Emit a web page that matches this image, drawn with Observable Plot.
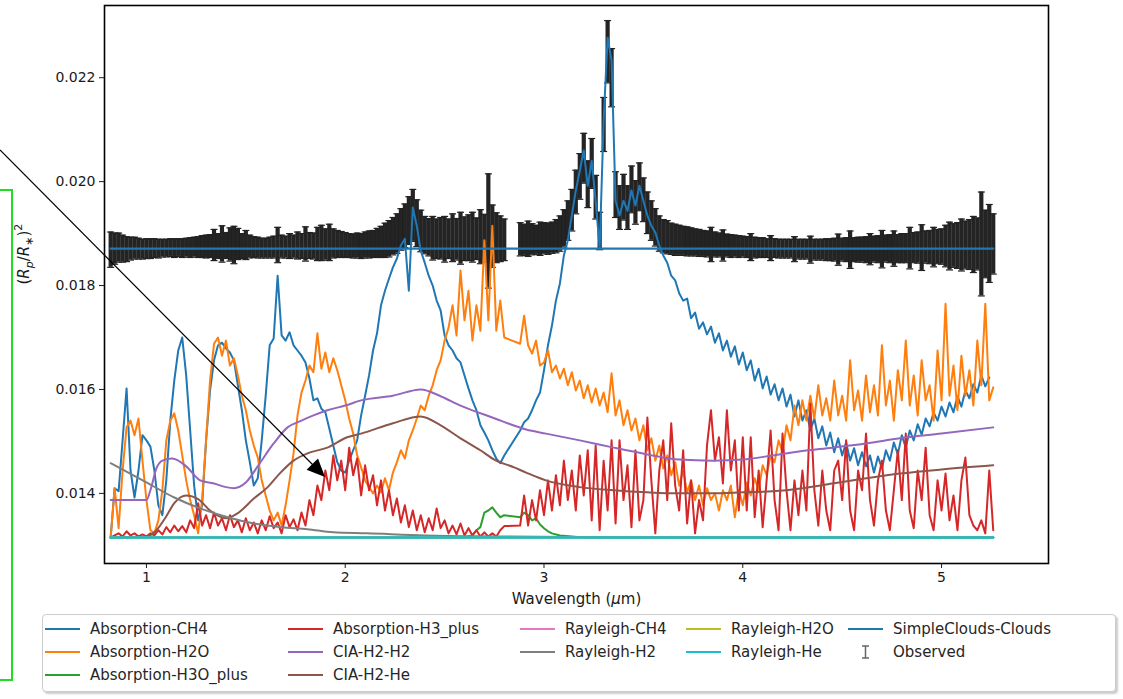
<!DOCTYPE html>
<html><head><meta charset="utf-8">
<script src="https://cdn.jsdelivr.net/npm/d3@7"></script>
<script src="https://cdn.jsdelivr.net/npm/@observablehq/plot@0.6"></script>
<style>
body{margin:0;background:#fff;font-family:"DejaVu Sans",sans-serif;}
#wrap{position:relative;width:1123px;height:699px;overflow:hidden;background:#fff;}
#chart{position:absolute;left:0;top:0;}
#legend{position:absolute;left:42px;top:614px;width:1074px;height:78px;border:1px solid #cccccc;border-radius:4px;box-shadow:2px 2px 2px rgba(0,0,0,0.2);background:#fff;box-sizing:border-box;}
.item{position:absolute;height:20px;display:flex;align-items:center;font-size:15px;color:#262626;white-space:nowrap;}
.sw{width:35px;height:0;border-top:2.5px solid;margin-right:10px;}
#overlay{position:absolute;left:0;top:0;pointer-events:none;}
</style></head><body>
<div id="wrap"><div id="chart"></div><div id="legend"></div><svg id="overlay" width="1123" height="699"></svg></div>
<script>
// ---- data ----
const wavelength = [
0.82,0.84,0.86,0.88,0.90,0.92,0.94,0.96,0.98,1.00,
1.02,1.04,1.06,1.08,1.10,1.12,1.14,1.16,1.18,1.20,
1.22,1.24,1.26,1.28,1.30,1.32,1.34,1.36,1.38,1.40,
1.42,1.44,1.46,1.48,1.50,1.52,1.54,1.56,1.58,1.60,
1.62,1.64,1.66,1.68,1.70,1.72,1.74,1.76,1.78,1.80,
1.82,1.84,1.86,1.88,1.90,1.92,1.94,1.96,1.98,2.00,
2.02,2.04,2.06,2.08,2.10,2.12,2.14,2.16,2.18,2.20,
2.22,2.24,2.26,2.28,2.30,2.32,2.34,2.36,2.38,2.40,
2.42,2.44,2.46,2.48,2.50,2.52,2.54,2.56,2.58,2.60,
2.62,2.64,2.66,2.68,2.70,2.72,2.74,2.76,2.78,2.80,
2.82,2.84,2.86,2.88,2.90,2.92,2.94,2.96,2.98,3.00,
3.02,3.04,3.06,3.08,3.10,3.12,3.14,3.16,3.18,3.20,
3.22,3.24,3.26,3.28,3.30,3.32,3.34,3.36,3.38,3.40,
3.42,3.44,3.46,3.48,3.50,3.52,3.54,3.56,3.58,3.60,
3.62,3.64,3.66,3.68,3.70,3.72,3.74,3.76,3.78,3.80,
3.82,3.84,3.86,3.88,3.90,3.92,3.94,3.96,3.98,4.00,
4.02,4.04,4.06,4.08,4.10,4.12,4.14,4.16,4.18,4.20,
4.22,4.24,4.26,4.28,4.30,4.32,4.34,4.36,4.38,4.40,
4.42,4.44,4.46,4.48,4.50,4.52,4.54,4.56,4.58,4.60,
4.62,4.64,4.66,4.68,4.70,4.72,4.74,4.76,4.78,4.80,
4.82,4.84,4.86,4.88,4.90,4.92,4.94,4.96,4.98,5.00,
5.02,5.04,5.06,5.08,5.10,5.12,5.14,5.16,5.18,5.20,
5.22,5.24,5.26];

const absorptionCH4 = [
0.01315,0.01410,0.01404,0.01502,0.01602,0.01444,0.01392,0.01444,0.01512,0.01502,
0.01490,0.01444,0.01377,0.01358,0.01425,0.01540,0.01617,0.01675,0.01700,0.01627,
0.01521,0.01415,0.01348,0.01377,0.01502,0.01598,0.01656,0.01685,0.01690,0.01679,
0.01671,0.01656,0.01608,0.01560,0.01502,0.01460,0.01415,0.01429,0.01502,0.01588,
0.01685,0.01698,0.01819,0.01704,0.01694,0.01710,0.01685,0.01675,0.01665,0.01652,
0.01621,0.01579,0.01583,0.01563,0.01556,0.01525,0.01492,0.01460,0.01444,0.01440,
0.01463,0.01483,0.01502,0.01550,0.01588,0.01627,0.01675,0.01708,0.01762,0.01790,
0.01813,0.01835,0.01852,0.01877,0.01890,0.01790,0.01950,0.01915,0.01867,0.01844,
0.01819,0.01800,0.01771,0.01752,0.01704,0.01685,0.01675,0.01660,0.01652,0.01627,
0.01602,0.01579,0.01560,0.01531,0.01517,0.01502,0.01483,0.01467,0.01458,0.01473,
null,null,null,0.01521,0.01537,0.01544,0.01560,0.01579,0.01594,0.01637,
0.01685,0.01723,0.01771,0.01804,0.01858,0.01887,0.01935,0.01983,0.02021,0.02060,
0.01992,0.02040,0.01963,0.01871,0.02117,0.02277,0.02233,0.01963,0.01935,0.01963,
0.01944,0.01983,0.01954,0.01992,0.01963,0.01935,0.01915,0.01902,0.01877,0.01858,
0.01844,0.01819,0.01810,0.01785,0.01771,0.01775,0.01737,0.01748,0.01717,0.01729,
0.01706,0.01721,0.01690,0.01708,0.01675,0.01694,0.01663,0.01683,0.01648,0.01671,
0.01637,0.01656,0.01617,0.01640,0.01602,0.01625,0.01590,0.01610,0.01579,0.01602,
0.01567,0.01590,0.01548,0.01579,0.01540,0.01560,0.01521,0.01544,0.01506,0.01529,
0.01492,0.01517,0.01479,0.01506,0.01473,0.01498,0.01463,0.01487,0.01454,0.01479,
0.01452,0.01473,0.01440,0.01471,0.01448,0.01483,0.01463,0.01498,0.01475,0.01512,
0.01488,0.01521,0.01502,0.01533,0.01513,0.01544,0.01529,0.01556,0.01540,0.01567,
0.01548,0.01575,0.01556,0.01587,0.01567,0.01598,0.01583,0.01610,0.01594,0.01627,
0.01606,0.01623,null];

const absorptionH2O = [
0.01315,0.01410,0.01333,0.01444,0.01527,0.01540,0.01512,0.01544,0.01463,0.01387,
0.01329,0.01323,0.01348,0.01406,0.01502,0.01540,0.01554,0.01521,0.01473,0.01425,
0.01387,0.01358,0.01323,0.01387,0.01502,0.01617,0.01688,0.01700,0.01665,0.01694,
0.01646,0.01660,0.01627,0.01588,0.01560,0.01521,0.01492,0.01469,0.01425,0.01396,
0.01367,0.01348,0.01363,0.01338,0.01377,0.01425,0.01477,0.01550,0.01594,0.01617,
0.01646,0.01633,0.01708,0.01640,0.01671,0.01633,0.01660,0.01637,0.01608,0.01579,
0.01544,0.01515,0.01473,0.01450,0.01425,0.01412,0.01400,0.01415,0.01402,0.01429,
0.01406,0.01440,0.01460,0.01483,0.01467,0.01502,0.01521,0.01544,0.01569,0.01560,
0.01588,0.01608,0.01637,0.01656,0.01694,0.01719,0.01762,0.01704,0.01829,0.01733,
0.01790,0.01694,0.01762,0.01713,0.01887,0.01733,0.01915,0.01713,0.01771,0.01700,
null,null,null,0.01688,0.01742,0.01685,0.01669,0.01694,0.01646,0.01652,
0.01675,0.01633,0.01646,0.01621,0.01640,0.01608,0.01633,0.01598,0.01617,0.01583,
0.01608,0.01575,0.01602,0.01569,0.01594,0.01556,0.01631,0.01550,0.01579,0.01531,
0.01560,0.01521,0.01544,0.01502,0.01531,0.01483,0.01506,0.01463,0.01492,0.01448,
0.01473,0.01435,0.01460,0.01415,0.01444,0.01402,0.01425,0.01387,0.01415,0.01377,
0.01410,0.01387,0.01400,0.01367,0.01406,0.01387,0.01415,0.01354,0.01406,0.01377,
0.01421,0.01396,0.01429,0.01406,0.01454,0.01435,0.01473,0.01460,0.01502,0.01479,
0.01531,0.01502,0.01569,0.01531,0.01579,0.01540,0.01588,0.01544,0.01608,0.01550,
0.01583,0.01540,0.01617,0.01550,0.01588,0.01540,0.01656,0.01560,0.01598,0.01540,
0.01627,0.01556,0.01608,0.01550,0.01685,0.01569,0.01617,0.01540,0.01637,0.01579,
0.01694,0.01569,0.01627,0.01550,0.01656,0.01579,0.01608,0.01540,0.01675,0.01579,
0.01765,0.01588,0.01646,0.01560,0.01665,0.01588,0.01637,0.01569,0.01694,0.01608,
0.01765,0.01579,0.01604];

const absorptionH3plus = [
0.01315,0.01319,0.01323,0.01317,0.01327,0.01319,0.01323,0.01317,0.01321,0.01317,
0.01323,0.01319,0.01329,0.01321,0.01335,0.01325,0.01338,0.01327,0.01337,0.01325,
0.01348,0.01333,0.01381,0.01338,0.01358,0.01333,0.01363,0.01338,0.01352,0.01329,
0.01358,0.01335,0.01348,0.01325,0.01352,0.01329,0.01344,0.01323,0.01348,0.01329,
0.01356,0.01333,0.01344,0.01323,0.01358,0.01335,0.01350,0.01329,0.01363,0.01338,
0.01387,0.01358,0.01415,0.01387,0.01444,0.01406,0.01473,0.01425,0.01463,0.01406,
0.01488,0.01435,0.01467,0.01396,0.01454,0.01406,0.01435,0.01377,0.01425,0.01367,
0.01406,0.01358,0.01390,0.01344,0.01377,0.01335,0.01367,0.01329,0.01358,0.01325,
0.01352,0.01329,0.01371,0.01333,0.01348,0.01323,0.01338,0.01321,0.01342,0.01319,
0.01333,0.01319,0.01329,0.01317,0.01325,0.01317,0.01323,0.01317,0.01329,0.01337,
null,null,null,0.01338,0.01396,0.01338,0.01387,0.01348,0.01406,0.01358,
0.01425,0.01367,0.01435,0.01377,0.01463,0.01387,0.01444,0.01367,0.01473,0.01396,
0.01483,0.01348,0.01492,0.01329,0.01463,0.01367,0.01502,0.01342,0.01502,0.01387,
0.01454,0.01335,0.01483,0.01348,0.01387,0.01546,0.01425,0.01323,0.01444,0.01502,
0.01387,0.01535,0.01415,0.01367,0.01483,0.01342,0.01425,0.01323,0.01387,0.01348,
0.01492,0.01560,0.01463,0.01508,0.01419,0.01560,0.01444,0.01502,0.01367,0.01508,
0.01367,0.01508,0.01354,0.01444,0.01335,0.01425,0.01521,0.01387,0.01329,0.01515,
0.01406,0.01329,0.01425,0.01358,0.01444,0.01367,0.01573,0.01406,0.01338,0.01444,
0.01367,0.01329,0.01444,0.01463,0.01387,0.01502,0.01367,0.01329,0.01444,0.01406,
0.01515,0.01387,0.01338,0.01425,0.01463,0.01367,0.01329,0.01406,0.01483,0.01387,
0.01515,0.01367,0.01333,0.01444,0.01387,0.01488,0.01358,0.01329,0.01425,0.01367,
0.01438,0.01348,0.01396,0.01329,0.01425,0.01469,0.01358,0.01338,0.01329,0.01348,
0.01323,0.01444,0.01329];

const observedValue = [
0.01869,0.01871,0.01873,0.01871,0.01870,0.01871,0.01872,0.01871,0.01870,0.01871,
0.01871,0.01872,0.01871,0.01872,0.01872,0.01873,0.01872,0.01873,0.01872,0.01873,
0.01873,0.01874,0.01874,0.01875,0.01875,0.01876,0.01878,0.01876,0.01880,0.01877,
0.01879,0.01878,0.01880,0.01876,0.01878,0.01875,0.01874,0.01873,0.01872,0.01872,
0.01873,0.01874,0.01878,0.01875,0.01874,0.01876,0.01875,0.01877,0.01876,0.01880,
0.01877,0.01876,0.01880,0.01882,0.01879,0.01883,0.01881,0.01880,0.01879,0.01878,
0.01877,0.01876,0.01877,0.01876,0.01878,0.01879,0.01880,0.01882,0.01884,0.01887,
0.01890,0.01895,0.01900,0.01908,0.01915,0.01925,0.01935,0.01920,0.01905,0.01897,
0.01893,0.01891,0.01890,0.01891,0.01889,0.01890,0.01892,0.01889,0.01891,0.01890,
0.01892,0.01893,0.01890,0.01894,0.01891,0.01905,0.01895,0.01892,0.01890,0.01888,
null,null,null,0.01889,0.01888,0.01890,0.01889,0.01888,0.01890,0.01891,
0.01890,0.01892,0.01895,0.01900,0.01910,0.01925,0.01945,0.01980,0.02010,0.02045,
0.01995,0.02035,0.01970,0.01905,0.02110,0.02250,0.02200,0.01975,0.01950,0.01970,
0.01950,0.01985,0.01960,0.01990,0.01965,0.01940,0.01925,0.01912,0.01900,0.01895,
0.01893,0.01890,0.01888,0.01887,0.01886,0.01885,0.01884,0.01883,0.01882,0.01881,
0.01880,0.01879,0.01879,0.01878,0.01877,0.01877,0.01876,0.01876,0.01875,0.01875,
0.01874,0.01874,0.01873,0.01873,0.01873,0.01872,0.01872,0.01872,0.01871,0.01871,
0.01871,0.01871,0.01870,0.01870,0.01870,0.01870,0.01869,0.01869,0.01869,0.01869,
0.01869,0.01869,0.01869,0.01869,0.01869,0.01869,0.01869,0.01869,0.01869,0.01869,
0.01869,0.01870,0.01870,0.01870,0.01870,0.01871,0.01871,0.01871,0.01871,0.01872,
0.01872,0.01872,0.01873,0.01873,0.01873,0.01874,0.01874,0.01874,0.01875,0.01875,
0.01876,0.01876,0.01877,0.01877,0.01878,0.01878,0.01879,0.01879,0.01880,0.01880,
0.01880,0.01881,0.01880];

const observedError = [
0.00034,0.00030,0.00028,0.00026,0.00024,0.00022,0.00021,0.00020,0.00019,0.00019,
0.00019,0.00018,0.00018,0.00017,0.00017,0.00017,0.00018,0.00017,0.00018,0.00018,
0.00019,0.00019,0.00020,0.00021,0.00022,0.00022,0.00030,0.00024,0.00035,0.00025,
0.00032,0.00036,0.00030,0.00024,0.00028,0.00022,0.00020,0.00020,0.00019,0.00019,
0.00020,0.00021,0.00034,0.00022,0.00021,0.00024,0.00022,0.00026,0.00024,0.00033,
0.00025,0.00025,0.00032,0.00034,0.00030,0.00035,0.00028,0.00026,0.00025,0.00024,
0.00023,0.00023,0.00024,0.00024,0.00025,0.00026,0.00026,0.00028,0.00030,0.00033,
0.00035,0.00036,0.00038,0.00040,0.00042,0.00046,0.00050,0.00045,0.00040,0.00036,
0.00036,0.00042,0.00038,0.00040,0.00044,0.00038,0.00046,0.00040,0.00050,0.00042,
0.00044,0.00048,0.00040,0.00052,0.00046,0.00110,0.00060,0.00048,0.00044,0.00040,
null,null,null,0.00032,0.00030,0.00034,0.00030,0.00028,0.00032,0.00030,
0.00030,0.00030,0.00032,0.00034,0.00036,0.00038,0.00040,0.00042,0.00044,0.00048,
0.00045,0.00048,0.00042,0.00036,0.00052,0.00060,0.00056,0.00044,0.00042,0.00044,
0.00042,0.00045,0.00042,0.00046,0.00042,0.00040,0.00038,0.00036,0.00034,0.00032,
0.00032,0.00030,0.00030,0.00029,0.00028,0.00028,0.00027,0.00026,0.00026,0.00025,
0.00025,0.00033,0.00024,0.00023,0.00030,0.00022,0.00022,0.00021,0.00021,0.00020,
0.00020,0.00026,0.00020,0.00019,0.00019,0.00018,0.00024,0.00018,0.00018,0.00018,
0.00018,0.00018,0.00024,0.00019,0.00019,0.00019,0.00026,0.00020,0.00020,0.00020,
0.00021,0.00021,0.00022,0.00030,0.00022,0.00023,0.00036,0.00023,0.00024,0.00024,
0.00025,0.00030,0.00025,0.00026,0.00036,0.00026,0.00027,0.00034,0.00027,0.00028,
0.00028,0.00040,0.00029,0.00030,0.00044,0.00031,0.00032,0.00038,0.00033,0.00034,
0.00040,0.00046,0.00042,0.00044,0.00050,0.00046,0.00048,0.00054,0.00050,0.00100,
0.00065,0.00075,0.00058];

const h3oWavelength = [0.82,2.60,2.64,2.66,2.68,2.70,2.72,2.74,2.76,2.78,2.80,2.88,2.90,2.92,2.94,2.96,2.98,3.00,3.02,3.04,3.08,3.14,3.20,5.26];
const absorptionH3Oplus = [0.01315,0.01315,0.01319,0.01329,0.01335,0.01363,0.01367,0.01373,0.01363,0.01354,0.01358,0.01354,0.01363,0.01358,0.01348,0.01352,0.01340,0.01333,0.01327,0.01323,0.01319,0.01317,0.01315,0.01315];

const ciaH2H2Wavelength = [0.82,1.00,1.02,1.05,1.08,1.13,1.20,1.27,1.34,1.40,1.44,1.50,1.57,1.64,1.71,1.78,1.84,1.91,2.00,2.08,2.24,2.38,2.48,2.58,2.74,2.91,3.01,3.18,3.35,3.52,3.68,3.85,4.00,4.15,4.29,4.45,4.62,4.79,5.00,5.26];
const ciaH2H2 = [0.01387,0.01387,0.01406,0.01448,0.01463,0.01467,0.01452,0.01425,0.01419,0.01412,0.01410,0.01421,0.01458,0.01496,0.01527,0.01540,0.01550,0.01560,0.01569,0.01579,0.01588,0.01600,0.01587,0.01569,0.01546,0.01523,0.01515,0.01502,0.01488,0.01475,0.01465,0.01463,0.01465,0.01473,0.01481,0.01488,0.01496,0.01506,0.01515,0.01527];

const ciaH2HeWavelength = [0.82,1.00,1.05,1.10,1.14,1.20,1.26,1.32,1.40,1.46,1.54,1.61,1.67,1.74,1.81,1.91,2.01,2.08,2.24,2.38,2.48,2.58,2.68,2.75,2.85,2.91,3.01,3.18,3.35,3.52,3.68,3.85,4.00,4.15,4.30,4.45,4.62,4.79,5.00,5.26];
const ciaH2He = [0.01315,0.01317,0.01329,0.01356,0.01381,0.01396,0.01389,0.01367,0.01352,0.01362,0.01390,0.01412,0.01438,0.01463,0.01477,0.01488,0.01508,0.01515,0.01535,0.01548,0.01531,0.01506,0.01483,0.01465,0.01450,0.01440,0.01425,0.01412,0.01406,0.01402,0.01400,0.01400,0.01402,0.01404,0.01410,0.01419,0.01429,0.01438,0.01446,0.01454];

const rayleighH2Wavelength = [0.82,1.00,1.14,1.27,1.41,1.54,1.68,1.81,1.94,2.11,2.40,2.80,3.50,5.26];
const rayleighH2 = [0.01458,0.01421,0.01392,0.01371,0.01354,0.01342,0.01335,0.01331,0.01325,0.01323,0.01319,0.01317,0.01315,0.01315];

const flatWavelength = [0.82, 5.26];
const rayleighCH4 = [0.01315, 0.01315];
const rayleighH2O = [0.01315, 0.01315];
const rayleighHe = [0.01315, 0.01315];
const simpleClouds = [0.01871, 0.01871];

const xTicks = [1, 2, 3, 4, 5];
const yTicks = [0.014, 0.016, 0.018, 0.020, 0.022];
const xLabel = "Wavelength (μm)";
const yLabel = "(Rp/R*)2";

const seriesNames = ["Absorption-CH4","Absorption-H2O","Absorption-H3O_plus","Absorption-H3_plus","CIA-H2-H2","CIA-H2-He","Rayleigh-CH4","Rayleigh-H2","Rayleigh-H2O","Rayleigh-He","SimpleClouds-Clouds"];
const seriesColors = ["#1f77b4","#ff7f0e","#2ca02c","#d62728","#9467bd","#8c564b","#e377c2","#7f7f7f","#bcbd22","#17becf","#1f77b4"];
const observedName = "Observed";

// ---- build ----
function pairs(xs, vs){ return xs.map((x,i)=>({wl:x, v:vs[i]})).filter(d=>d.v!=null); }
const seriesData = [
  {data: pairs(wavelength, absorptionCH4), curve:"linear", w:2},
  {data: pairs(wavelength, absorptionH2O), curve:"linear", w:2},
  {data: pairs(h3oWavelength, absorptionH3Oplus), curve:"linear", w:2},
  {data: pairs(wavelength, absorptionH3plus), curve:"linear", w:2},
  {data: pairs(ciaH2H2Wavelength, ciaH2H2), curve:"monotone-x", w:2},
  {data: pairs(ciaH2HeWavelength, ciaH2He), curve:"monotone-x", w:2},
  {data: pairs(flatWavelength, rayleighCH4), curve:"linear", w:2},
  {data: pairs(rayleighH2Wavelength, rayleighH2), curve:"monotone-x", w:2},
  {data: pairs(flatWavelength, rayleighH2O), curve:"linear", w:2},
  {data: pairs(flatWavelength, rayleighHe), curve:"linear", w:2.6},
  {data: pairs(flatWavelength, simpleClouds), curve:"linear", w:2.2}
];
const obs = wavelength.map((w,i)=>({wl:w, v:observedValue[i], e:observedError[i]}))
  .filter(d=>d.v!=null).map(d=>({wl:d.wl, lo:d.v-d.e, hi:d.v+d.e}));

const capSymbol = {draw(context, size){ const r = Math.sqrt(size/Math.PI); context.moveTo(-r,0); context.lineTo(r,0); }};

const lineMarks = seriesData.map((s,i)=>Plot.line(s.data, {x:"wl", y:"v", stroke: seriesColors[i], strokeWidth: s.w, curve: s.curve}));

const plot = Plot.plot({
  width: 1123, height: 615,
  marginLeft: 104, marginRight: 75, marginTop: 5, marginBottom: 52,
  x: {domain: [0.789, 5.538]},
  y: {domain: [0.01265, 0.02339]},
  style: {fontFamily: "'DejaVu Sans', sans-serif", fontSize: "14px", color: "#1a1a1a", background: "transparent"},
  marks: [
    Plot.ruleX(obs, {x:"wl", y1:"lo", y2:"hi", stroke:"#111", strokeWidth:4.2, strokeOpacity:0.92}),
    Plot.dot(obs, {x:"wl", y:"hi", symbol: capSymbol, r:3.5, stroke:"#222", strokeWidth:1.2, fill:"none"}),
    Plot.dot(obs, {x:"wl", y:"lo", symbol: capSymbol, r:3.5, stroke:"#222", strokeWidth:1.2, fill:"none"}),
    ...lineMarks,
    Plot.frame({stroke:"#000", strokeWidth:1.6}),
    Plot.axisX({ticks: xTicks, tickSize:5, tickPadding:4, label:null, tickFormat: d=>String(d)}),
    Plot.axisY({ticks: yTicks, tickSize:5, tickPadding:4, label:null, tickFormat: d3.format(".3f")}),
    Plot.text([xLabel], {frameAnchor:"bottom", dy:40, fontSize:15}),
    Plot.text([yLabel], {frameAnchor:"left", dx:-80, rotate:-90, fontSize:15})
  ]
});
document.getElementById("chart").appendChild(plot);

// format axis labels with math styling
d3.select(plot).selectAll("text").filter(function(){ return this.textContent === yLabel; }).each(function(){
  const t = d3.select(this); t.text("");
  t.append("tspan").text("(");
  t.append("tspan").attr("font-style","italic").text("R");
  t.append("tspan").attr("font-style","italic").attr("font-size",11).attr("dy",4).text("p");
  t.append("tspan").attr("dy",-4).text("/");
  t.append("tspan").attr("font-style","italic").text("R");
  t.append("tspan").attr("font-size",11).attr("dy",4).text("∗");
  t.append("tspan").attr("dy",-4).text(")");
  t.append("tspan").attr("font-size",11).attr("dy",-7).text("2");
});
d3.select(plot).selectAll("text").filter(function(){ return this.textContent === xLabel; }).each(function(){
  const t = d3.select(this); t.text("");
  t.append("tspan").text("Wavelength (");
  t.append("tspan").attr("font-style","italic").text("μ");
  t.append("tspan").text("m)");
});

// legend (matplotlib column-major, 5 columns)
const legendCols = [[0,1,2],[3,4,5],[6,7],[8,9],[10,11]];
const colLeft = [2, 245, 477, 643, 805];
const rowTop = [4, 27, 50];
const legend = document.getElementById("legend");
legendCols.forEach((col,ci)=>col.forEach((idx,ri)=>{
  const it = document.createElement("div");
  it.className = "item"; it.style.left = colLeft[ci]+"px"; it.style.top = rowTop[ri]+"px";
  if (idx < seriesNames.length) {
    const sw = document.createElement("div"); sw.className = "sw"; sw.style.borderTopColor = seriesColors[idx];
    it.appendChild(sw);
    it.appendChild(document.createTextNode(seriesNames[idx]));
  } else {
    const ns = "http://www.w3.org/2000/svg";
    const s = document.createElementNS(ns,"svg"); s.setAttribute("width",35); s.setAttribute("height",20); s.style.marginRight="10px";
    s.innerHTML = '<line x1="17.5" y1="4" x2="17.5" y2="16" stroke="#666" stroke-width="1.5"/><line x1="14" y1="4" x2="21" y2="4" stroke="#666" stroke-width="1.5"/><line x1="14" y1="16" x2="21" y2="16" stroke="#666" stroke-width="1.5"/>';
    it.appendChild(s);
    it.appendChild(document.createTextNode(observedName));
  }
  legend.appendChild(it);
}));

// annotation overlay (arrow and green bracket present in the reference image)
const ov = d3.select("#overlay");
ov.append("line").attr("x1",0).attr("y1",150).attr("x2",314).attr("y2",466).attr("stroke","#000").attr("stroke-width",1.2);
ov.append("polygon").attr("points","325,477 318,458.6 306.6,469.8").attr("fill","#000");
ov.append("polyline").attr("points","0,190 12,190 12,680 0,680").attr("fill","none").attr("stroke","#22dd22").attr("stroke-width",2);
</script>
</body></html>
